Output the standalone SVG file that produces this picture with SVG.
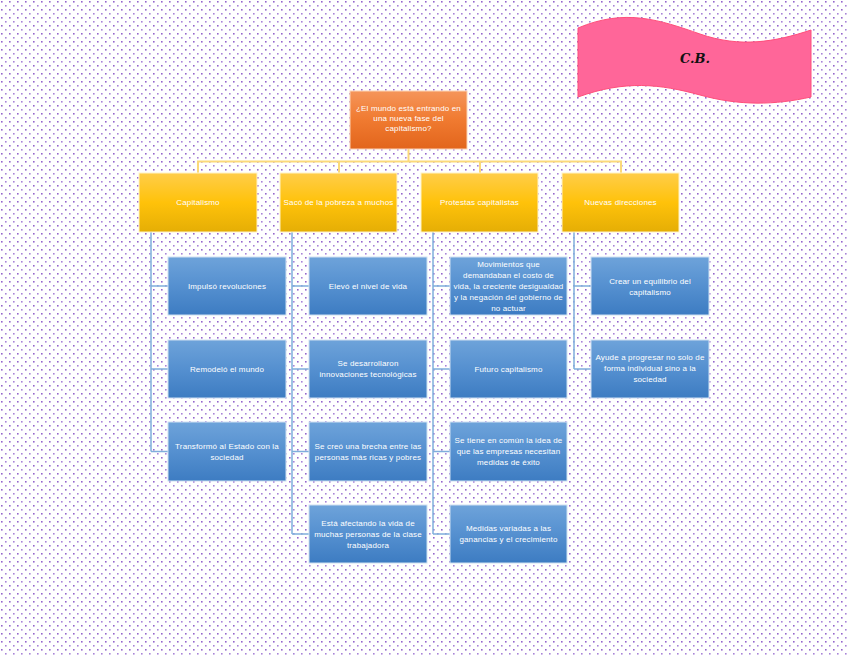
<svg xmlns="http://www.w3.org/2000/svg" width="848" height="655" viewBox="0 0 848 655">
<defs>
<pattern id="dots" x="0" y="0" width="8" height="8" patternUnits="userSpaceOnUse">
<rect x="1" y="1" width="1.6" height="1.6" fill="#9466cc"/>
<rect x="5" y="5" width="1.6" height="1.6" fill="#a884d8"/>
</pattern>
<linearGradient id="gOr" x1="0" y1="0" x2="0" y2="1">
<stop offset="0" stop-color="#f5955a"/>
<stop offset="0.5" stop-color="#f07a30"/>
<stop offset="1" stop-color="#e2651c"/>
</linearGradient>
<linearGradient id="gYe" x1="0" y1="0" x2="0" y2="1">
<stop offset="0" stop-color="#ffcd4a"/>
<stop offset="0.5" stop-color="#ffc20a"/>
<stop offset="1" stop-color="#e5ae05"/>
</linearGradient>
<linearGradient id="gBl" x1="0" y1="0" x2="0" y2="1">
<stop offset="0" stop-color="#6ea3da"/>
<stop offset="0.5" stop-color="#5590d0"/>
<stop offset="1" stop-color="#3d7cc2"/>
</linearGradient>
<style>
.t{font-family:"Liberation Sans","DejaVu Sans",sans-serif;font-size:8px;fill:#ffffff;text-anchor:middle;letter-spacing:0.15px}
.or{fill:url(#gOr);stroke:#fbd3b6;stroke-width:1}
.ye{fill:url(#gYe);stroke:#fff3c8;stroke-width:1}
.bl{fill:url(#gBl);stroke:#cfe0f2;stroke-width:1}
.cy{fill:none;stroke:#fbd97a;stroke-width:2}
.cb{fill:none;stroke:#7faedc;stroke-width:1.5}
</style>
</defs>
<rect width="848" height="655" fill="#ffffff"/>
<rect width="848" height="655" fill="url(#dots)"/>

<g id="connectors">
<path class="cy" d="M408.5,149 V161.5 M198,173 V161.5 H621 V173 M339,161.5 V173 M480,161.5 V173"/>
<path class="cb" d="M151,232 V451.5 M151,286 H168 M151,369 H168 M151,451.5 H168"/>
<path class="cb" d="M292,232 V534 M292,286 H309 M292,369 H309 M292,451.5 H309 M292,534 H309"/>
<path class="cb" d="M433,232 V534 M433,286 H450 M433,369 H450 M433,451.5 H450 M433,534 H450"/>
<path class="cb" d="M574,232 V369 M574,286 H591 M574,369 H591"/>
</g>

<g id="banner">
<path d="M578,28 C625,8 660,20 700,34 C740,48 775,42 811,30 L811,97 C775,105 740,106 700,95 C660,84 625,80 578,97 Z" fill="#ff6699" stroke="#ff4f7b" stroke-width="1"/>
<text x="695" y="63" font-family="'DejaVu Serif',serif" font-style="italic" font-weight="bold" font-size="13" fill="#111" text-anchor="middle">C.B.</text>
</g>

<g id="root">
<rect class="or" x="350" y="91" width="117" height="58"/>
<text class="t" x="408.5" y="111">¿El mundo está entrando en</text>
<text class="t" x="408.5" y="121">una nueva fase del</text>
<text class="t" x="408.5" y="131">capitalismo?</text>
</g>

<g id="n-capitalismo">
<rect class="ye" x="139" y="173" width="118" height="59"/>
<text class="t" x="198" y="205">Capitalismo</text>
</g>
<g id="n-saco">
<rect class="ye" x="280" y="173" width="117" height="59"/>
<text class="t" x="338.5" y="205">Sacó de la pobreza a muchos</text>
</g>
<g id="n-protestas">
<rect class="ye" x="421" y="173" width="117" height="59"/>
<text class="t" x="479.5" y="205">Protestas capitalistas</text>
</g>
<g id="n-nuevas">
<rect class="ye" x="562" y="173" width="117" height="59"/>
<text class="t" x="620.5" y="205">Nuevas direcciones</text>
</g>

<g id="n-impulso">
<rect class="bl" x="168" y="257" width="118" height="58"/>
<text class="t" x="227" y="289">Impulsó revoluciones</text>
</g>
<g id="n-remodelo">
<rect class="bl" x="168" y="340" width="118" height="58"/>
<text class="t" x="227" y="372">Remodeló el mundo</text>
</g>
<g id="n-transformo">
<rect class="bl" x="168" y="422" width="118" height="59"/>
<text class="t" x="227" y="449">Transformó al Estado con la</text>
<text class="t" x="227" y="460">sociedad</text>
</g>

<g id="n-elevo">
<rect class="bl" x="309" y="257" width="118" height="58"/>
<text class="t" x="368" y="289">Elevó el nivel de vida</text>
</g>
<g id="n-desarrollaron">
<rect class="bl" x="309" y="340" width="118" height="58"/>
<text class="t" x="368" y="366">Se desarrollaron</text>
<text class="t" x="368" y="377">innovaciones tecnológicas</text>
</g>
<g id="n-brecha">
<rect class="bl" x="309" y="422" width="118" height="59"/>
<text class="t" x="368" y="449">Se creó una brecha entre las</text>
<text class="t" x="368" y="460">personas más ricas y pobres</text>
</g>
<g id="n-afectando">
<rect class="bl" x="309" y="505" width="118" height="58"/>
<text class="t" x="368" y="526">Está afectando la vida de</text>
<text class="t" x="368" y="537">muchas personas de la clase</text>
<text class="t" x="368" y="548">trabajadora</text>
</g>

<g id="n-movimientos">
<rect class="bl" x="450" y="257" width="117" height="58"/>
<text class="t" x="508.5" y="267">Movimientos que</text>
<text class="t" x="508.5" y="278">demandaban el costo de</text>
<text class="t" x="508.5" y="289">vida, la creciente desigualdad</text>
<text class="t" x="508.5" y="300">y la negación del gobierno de</text>
<text class="t" x="508.5" y="311">no actuar</text>
</g>
<g id="n-futuro">
<rect class="bl" x="450" y="340" width="117" height="58"/>
<text class="t" x="508.5" y="372">Futuro capitalismo</text>
</g>
<g id="n-comun">
<rect class="bl" x="450" y="422" width="117" height="59"/>
<text class="t" x="508.5" y="443">Se tiene en común la idea de</text>
<text class="t" x="508.5" y="454">que las empresas necesitan</text>
<text class="t" x="508.5" y="465">medidas de éxito</text>
</g>
<g id="n-medidas">
<rect class="bl" x="450" y="505" width="117" height="58"/>
<text class="t" x="508.5" y="531">Medidas variadas a las</text>
<text class="t" x="508.5" y="542">ganancias y el crecimiento</text>
</g>

<g id="n-equilibrio">
<rect class="bl" x="591" y="257" width="118" height="58"/>
<text class="t" x="650" y="284">Crear un equilibrio del</text>
<text class="t" x="650" y="295">capitalismo</text>
</g>
<g id="n-ayude">
<rect class="bl" x="591" y="340" width="118" height="58"/>
<text class="t" x="650" y="360">Ayude a progresar no solo de</text>
<text class="t" x="650" y="371">forma individual sino a la</text>
<text class="t" x="650" y="382">sociedad</text>
</g>
</svg>
